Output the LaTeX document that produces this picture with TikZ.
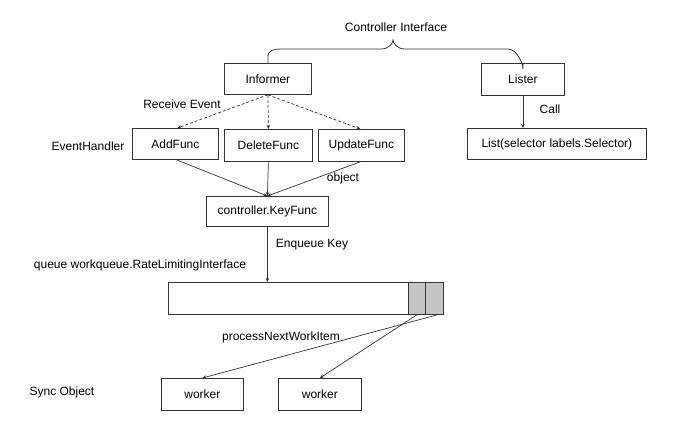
\documentclass[tikz,border=0pt]{standalone}
\usepackage{fontspec}
\setmainfont{Liberation Sans}
\usetikzlibrary{arrows.meta}
\definecolor{cellgray}{RGB}{196,196,196}
\begin{document}
\begin{tikzpicture}[x=1pt,y=-1pt,
  font=\fontsize{12}{14}\selectfont,
  box/.style={draw=black!80,line width=0.8pt,inner sep=0pt,anchor=north west},
  arr/.style={draw=black!80,line width=0.7pt,-{Stealth[length=4pt,width=3.5pt]}},
  darr/.style={arr,dashed,dash pattern=on 3pt off 2pt},
  lbl/.style={inner sep=0pt}]
\useasboundingbox (0,0) rectangle (680,429);
% boxes
\node[box,minimum width=87pt,minimum height=31pt] (inf) at (224,63) {Informer};
\node[box,minimum width=83pt,minimum height=32pt] (lis) at (481,63) {Lister};
\node[box,minimum width=179pt,minimum height=31pt] (list) at (467,128) {List(selector labels.Selector)};
\node[box,minimum width=86pt,minimum height=31pt] (add) at (132,128) {AddFunc};
\node[box,minimum width=88pt,minimum height=32pt] (del) at (224,129) {DeleteFunc};
\node[box,minimum width=86pt,minimum height=32pt] (upd) at (318,129) {UpdateFunc};
\node[box,minimum width=122pt,minimum height=30pt] (key) at (206,196) {controller.KeyFunc};
\node[box,minimum width=275pt,minimum height=32pt] (q) at (168,282) {};
\node[box,fill=cellgray,minimum width=17pt,minimum height=32pt] (c1) at (408,282) {};
\node[box,fill=cellgray,minimum width=18pt,minimum height=32pt] (c2) at (425,282) {};
\node[box,minimum width=82pt,minimum height=32pt] (w1) at (161,378) {worker};
\node[box,minimum width=83pt,minimum height=32pt] (w2) at (278,378) {worker};
% labels
\node[lbl] (ci) at (396,27) {Controller Interface};
\node[lbl] (re) at (182,104) {Receive Event};
\node[lbl] (eh) at (88,146) {EventHandler};
\node[lbl] (ob) at (343,178) {object};
\node[lbl] (call) at (550,109) {Call};
\node[lbl] (ek) at (312,245) {Enqueue Key};
\node[lbl] (qt) at (140,265) {queue workqueue.RateLimitingInterface};
\node[lbl] (pn) at (281,337) {processNextWorkItem};
\node[lbl] (so) at (62,392) {Sync Object};
% brace
\draw[black!80,line width=0.8pt] (inf.north) -- ++(0,-6) .. controls +(0,-7) and +(-8,0) .. (282,49)
  -- (381,49) .. controls +(8,0) and +(0,3) .. (393,40)
  .. controls +(0,3) and +(-8,0) .. (405,49)
  -- (508,49) .. controls +(8,0) and +(0,-7) .. ([yshift=-6pt]lis.north) -- (lis.north);
% dashed arrows
\draw[darr] (inf.south) -- ([xshift=2pt]add.north);
\draw[darr] (inf.south) -- (del.north);
\draw[darr] (inf.south) -- ([xshift=-1pt]upd.north);
% solid arrows
\draw[arr] ([xshift=1pt]add.south) -- (key.north);
\draw[arr] (del.south) -- (key.north);
\draw[arr] ([xshift=-1pt]upd.south) -- (key.north);
\draw[arr] (lis.south) -- (list.north -| lis.south);
\draw[arr] (key.south) -- (q.north -| key.south);
\coordinate (c1b) at ([xshift=0pt]c1.south);
\coordinate (c2b) at ([xshift=3pt]c2.south);
\draw[arr] (c1b) -- (w2.north);
\draw[arr] (c2b) -- (w1.north);
\end{tikzpicture}
\end{document}
